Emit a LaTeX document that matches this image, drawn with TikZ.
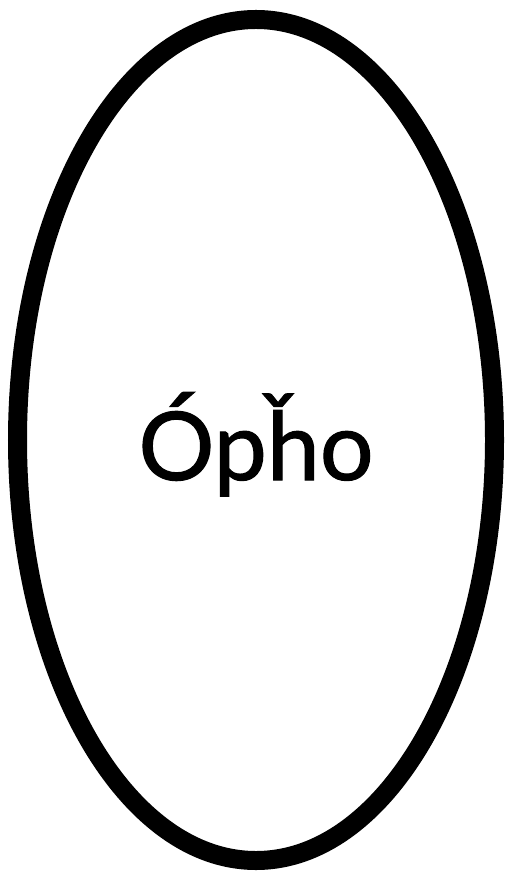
\documentclass[tikz,border=0pt]{standalone}
\usepackage{fontspec}
\setmainfont{Lato}
\newfontfamily\namefont[FakeBold=1.2]{Lato}
\usetikzlibrary{shapes.geometric}

\tikzset{
  oval/.style={ellipse, draw=black, line width=0.38cm, minimum width=9.54cm, minimum height=16.82cm, inner sep=0pt},
  word/.style={anchor=base, font=\namefont\fontsize{54}{64}\selectfont}
}

\begin{document}
\begin{tikzpicture}

\useasboundingbox (0,0) rectangle (10.1,-17.42);

% outline and name
\node[oval] (shell) at (5.12,-8.8) {};
\node[word] (name) at (5.12,-9.6) {Ópȟo};

\end{tikzpicture}
\end{document}
